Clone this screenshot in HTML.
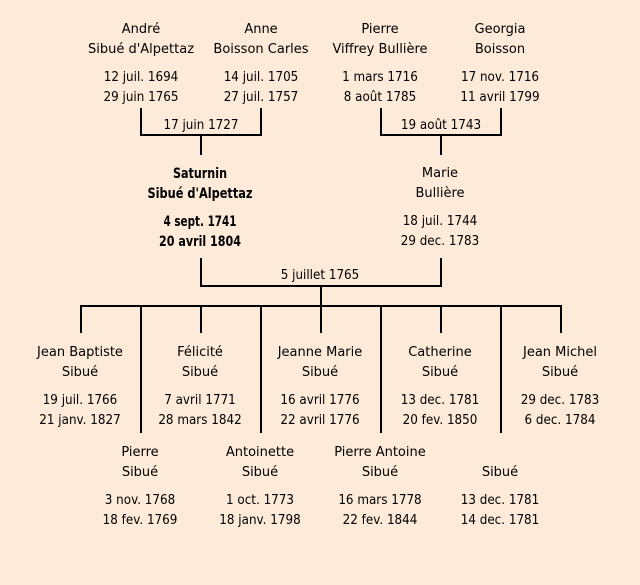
<!DOCTYPE html>
<html>
<head>
<meta charset="utf-8">
<style>
html,body{margin:0;padding:0;background:#fdead8;}
svg{display:block;}
text{font-family:"DejaVu Sans","Liberation Sans",sans-serif;fill:#000;text-anchor:middle;}
.n{font-size:13px;}
.d{font-size:13px;transform-box:fill-box;transform-origin:center;transform:scaleX(0.92);}
.b{font-weight:bold;font-size:14.5px;}
</style>
</head>
<body>
<svg width="640" height="585" viewBox="0 0 640 585" xmlns="http://www.w3.org/2000/svg">
<rect x="0" y="0" width="640" height="585" fill="#fdead8"/>
<g fill="none" stroke="#000" stroke-width="2" stroke-linejoin="miter">
  <path d="M141,108 V135 H261 V108"/>
  <path d="M201,135 V155"/>
  <path d="M381,108 V135 H501 V108"/>
  <path d="M441,135 V155"/>
  <path d="M201,258 V286 H441 V258"/>
  <path d="M321,286 V306"/>
  <path d="M80,306 H562"/>
  <path d="M81,306 V333"/>
  <path d="M201,306 V333"/>
  <path d="M321,306 V333"/>
  <path d="M441,306 V333"/>
  <path d="M561,306 V333"/>
  <path d="M141,306 V433"/>
  <path d="M261,306 V433"/>
  <path d="M381,306 V433"/>
  <path d="M501,306 V433"/>
</g>

<!-- Row 1 -->
<text class="n" x="141" y="33">André</text>
<text class="n" x="141" y="53">Sibué d'Alpettaz</text>
<text class="d" x="141" y="81">12 juil. 1694</text>
<text class="d" x="141" y="101">29 juin 1765</text>

<text class="n" x="261" y="33">Anne</text>
<text class="n" x="261" y="53">Boisson Carles</text>
<text class="d" x="261" y="81">14 juil. 1705</text>
<text class="d" x="261" y="101">27 juil. 1757</text>

<text class="n" x="380" y="33">Pierre</text>
<text class="n" x="380" y="53">Viffrey Bullière</text>
<text class="d" x="380" y="81">1 mars 1716</text>
<text class="d" x="380" y="101">8 août 1785</text>

<text class="n" x="500" y="33">Georgia</text>
<text class="n" x="500" y="53">Boisson</text>
<text class="d" x="500" y="81">17 nov. 1716</text>
<text class="d" x="500" y="101">11 avril 1799</text>

<text class="d" x="201" y="129">17 juin 1727</text>
<text class="d" x="441" y="129">19 août 1743</text>

<!-- Row 2 -->
<text class="b" x="200" y="178" textLength="54" lengthAdjust="spacingAndGlyphs">Saturnin</text>
<text class="b" x="200" y="198" textLength="105" lengthAdjust="spacingAndGlyphs">Sibué d'Alpettaz</text>
<text class="b" x="200" y="226" textLength="73" lengthAdjust="spacingAndGlyphs">4 sept. 1741</text>
<text class="b" x="200" y="246" textLength="82" lengthAdjust="spacingAndGlyphs">20 avril 1804</text>

<text class="n" x="440" y="177">Marie</text>
<text class="n" x="440" y="197">Bullière</text>
<text class="d" x="440" y="225">18 juil. 1744</text>
<text class="d" x="440" y="245">29 dec. 1783</text>

<text class="d" x="320" y="279">5 juillet 1765</text>

<!-- Row 3 -->
<text class="n" x="80" y="356">Jean Baptiste</text>
<text class="n" x="80" y="376">Sibué</text>
<text class="d" x="80" y="404">19 juil. 1766</text>
<text class="d" x="80" y="424">21 janv. 1827</text>

<text class="n" x="200" y="356">Félicité</text>
<text class="n" x="200" y="376">Sibué</text>
<text class="d" x="200" y="404">7 avril 1771</text>
<text class="d" x="200" y="424">28 mars 1842</text>

<text class="n" x="320" y="356">Jeanne Marie</text>
<text class="n" x="320" y="376">Sibué</text>
<text class="d" x="320" y="404">16 avril 1776</text>
<text class="d" x="320" y="424">22 avril 1776</text>

<text class="n" x="440" y="356">Catherine</text>
<text class="n" x="440" y="376">Sibué</text>
<text class="d" x="440" y="404">13 dec. 1781</text>
<text class="d" x="440" y="424">20 fev. 1850</text>

<text class="n" x="560" y="356">Jean Michel</text>
<text class="n" x="560" y="376">Sibué</text>
<text class="d" x="560" y="404">29 dec. 1783</text>
<text class="d" x="560" y="424">6 dec. 1784</text>

<!-- Row 4 -->
<text class="n" x="140" y="456">Pierre</text>
<text class="n" x="140" y="476">Sibué</text>
<text class="d" x="140" y="504">3 nov. 1768</text>
<text class="d" x="140" y="524">18 fev. 1769</text>

<text class="n" x="260" y="456">Antoinette</text>
<text class="n" x="260" y="476">Sibué</text>
<text class="d" x="260" y="504">1 oct. 1773</text>
<text class="d" x="260" y="524">18 janv. 1798</text>

<text class="n" x="380" y="456">Pierre Antoine</text>
<text class="n" x="380" y="476">Sibué</text>
<text class="d" x="380" y="504">16 mars 1778</text>
<text class="d" x="380" y="524">22 fev. 1844</text>

<text class="n" x="500" y="476">Sibué</text>
<text class="d" x="500" y="504">13 dec. 1781</text>
<text class="d" x="500" y="524">14 dec. 1781</text>
</svg>
</body>
</html>
